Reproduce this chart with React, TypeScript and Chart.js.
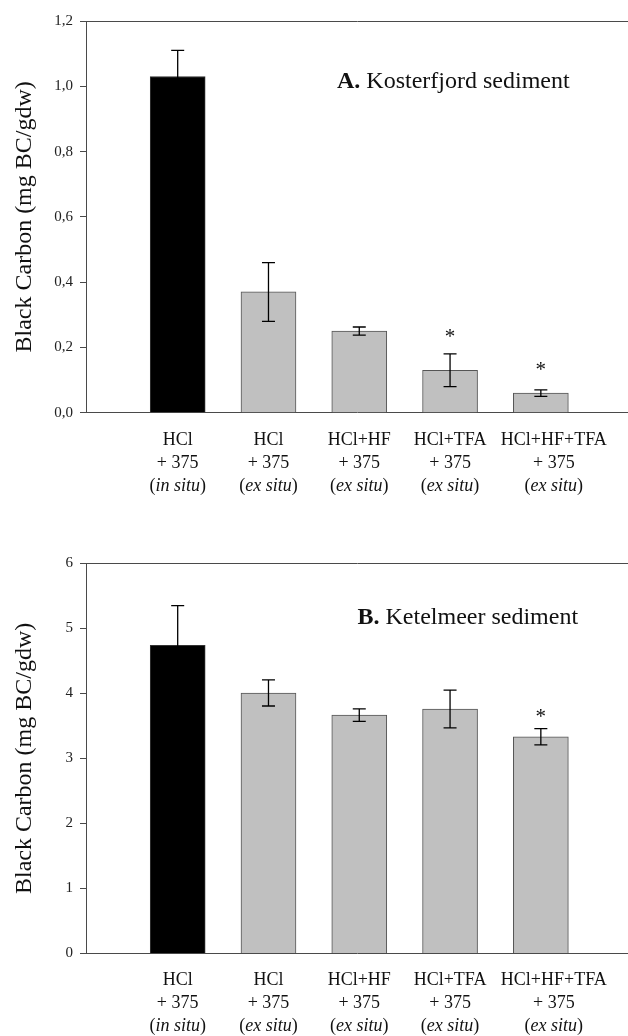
import React, { useEffect, useRef } from 'react';
import { Chart, registerables } from 'chart.js';

Chart.register(...registerables);

// ---------- data ----------
const treatmentLine1 = ['HCl', 'HCl', 'HCl+HF', 'HCl+TFA', 'HCl+HF+TFA'];
const treatmentLine2 = ['+ 375', '+ 375', '+ 375', '+ 375', '+ 375'];
const treatmentLine3 = ['in situ', 'ex situ', 'ex situ', 'ex situ', 'ex situ'];
const barColors = ['#000000', '#c0c0c0', '#c0c0c0', '#c0c0c0', '#c0c0c0'];

const kosterValues = [1.03, 0.37, 0.25, 0.13, 0.06];
const kosterErrors = [0.08, 0.09, 0.0125, 0.05, 0.01];
const kosterStars = [null, null, null, 0.246, 0.145];
const kosterTicks = [0, 0.2, 0.4, 0.6, 0.8, 1.0, 1.2];

const ketelValues = [4.74, 4.006, 3.665, 3.76, 3.333];
const ketelErrors = [0.61, 0.2, 0.095, 0.29, 0.124];
const ketelStars = [null, null, null, null, 3.7];
const ketelTicks = [0, 1, 2, 3, 4, 5, 6];

const yTitle = 'Black Carbon (mg BC/gdw)';

const FONT = '"Liberation Serif", "Times New Roman", Times, serif';
const AXIS = '#4a4a4a';

type PanelCfg = {
  values: number[];
  errors: number[];
  stars: (number | null)[];
  ticks: number[];
  tickFmt: (v: number) => string;
  titleBold: string;
  titleRest: string;
  titleDx: number;
  titleDy: number;
  padTop: number;
  padBottom: number;
  labelDy: number[];
  labelShift: number[];
};

function makeDecor(cfg: PanelCfg) {
  return {
    id: 'decor',
    afterDatasetsDraw(chart: any) {
      const { ctx, chartArea, scales } = chart;
      const xs = scales.x;
      const ys = scales.y;
      ctx.save();
      // error bars
      ctx.strokeStyle = '#000';
      ctx.lineWidth = 1.3;
      cfg.values.forEach((v, i) => {
        const e = cfg.errors[i];
        const x = xs.getPixelForValue(i);
        const yt = ys.getPixelForValue(v + e);
        const yb = ys.getPixelForValue(v - e);
        ctx.beginPath();
        ctx.moveTo(x, yt);
        ctx.lineTo(x, yb);
        ctx.moveTo(x - 6.5, yt);
        ctx.lineTo(x + 6.5, yt);
        ctx.moveTo(x - 6.5, yb);
        ctx.lineTo(x + 6.5, yb);
        ctx.stroke();
      });
      // significance stars
      ctx.fillStyle = '#111';
      ctx.font = `21px ${FONT}`;
      ctx.textAlign = 'center';
      ctx.textBaseline = 'alphabetic';
      cfg.stars.forEach((s, i) => {
        if (s == null) return;
        ctx.fillText('*', xs.getPixelForValue(i), ys.getPixelForValue(s) + 10.5);
      });
      // panel title
      ctx.textAlign = 'left';
      ctx.fillStyle = '#111';
      const tx = chartArea.left + cfg.titleDx;
      const ty = chartArea.top + cfg.titleDy;
      ctx.font = `bold 24px ${FONT}`;
      ctx.fillText(cfg.titleBold, tx, ty);
      const bw = ctx.measureText(cfg.titleBold).width;
      ctx.font = `24px ${FONT}`;
      ctx.fillText(' ' + cfg.titleRest, tx + bw, ty);
      // category labels
      ctx.textBaseline = 'middle';
      ctx.textAlign = 'left';
      treatmentLine1.forEach((l1, i) => {
        const cx = xs.getPixelForValue(i) + cfg.labelShift[i];
        const base = chartArea.bottom;
        ctx.font = `18px ${FONT}`;
        let w = ctx.measureText(l1).width;
        ctx.fillText(l1, cx - w / 2, base + cfg.labelDy[0]);
        const l2 = treatmentLine2[i];
        w = ctx.measureText(l2).width;
        ctx.fillText(l2, cx - w / 2, base + cfg.labelDy[1]);
        const l3 = treatmentLine3[i];
        const wp = ctx.measureText('(').width;
        const wq = ctx.measureText(')').width;
        ctx.font = `italic 18px ${FONT}`;
        const wi = ctx.measureText(l3).width;
        const total = wp + wi + wq;
        const x0 = cx - total / 2;
        const y3 = base + cfg.labelDy[2];
        ctx.font = `18px ${FONT}`;
        ctx.fillText('(', x0, y3);
        ctx.font = `italic 18px ${FONT}`;
        ctx.fillText(l3, x0 + wp, y3);
        ctx.font = `18px ${FONT}`;
        ctx.fillText(')', x0 + wp + wi, y3);
      });
      ctx.restore();
    },
  };
}

function Panel({ cfg, top }: { cfg: PanelCfg; top: number }) {
  const ref = useRef<HTMLCanvasElement>(null);
  useEffect(() => {
    const canvas = ref.current!;
    const chart = new Chart(canvas, {
      type: 'bar',
      data: {
        datasets: [
          {
            data: cfg.values.map((v, i) => ({ x: i, y: v })),
            backgroundColor: barColors,
            borderColor: ['#333333', '#555555', '#555555', '#555555', '#555555'],
            borderWidth: 1,
            barThickness: 55,
          },
        ],
      },
      options: {
        animation: false,
        responsive: false,
        devicePixelRatio: 1,
        layout: { padding: { top: cfg.padTop, bottom: cfg.padBottom, left: 0, right: 0 } },
        plugins: { legend: { display: false }, tooltip: { enabled: false } },
        scales: {
          x: {
            type: 'linear',
            position: 'bottom',
            offset: false,
            min: -1.01,
            max: 4.96,
            ticks: { display: false },
            grid: { display: false, drawTicks: false },
            border: { display: true, color: AXIS, width: 1 },
          },
          xTop: {
            type: 'linear',
            position: 'top',
            offset: false,
            min: -1.01,
            max: 4.96,
            ticks: { display: false },
            grid: { display: false, drawTicks: false },
            border: { display: true, color: AXIS, width: 1 },
          },
          y: {
            type: 'linear',
            position: 'left',
            min: cfg.ticks[0],
            max: cfg.ticks[cfg.ticks.length - 1],
            afterBuildTicks: (axis: any) => {
              axis.ticks = cfg.ticks.map((v) => ({ value: v }));
            },
            afterFit: (axis: any) => {
              axis.width = 86;
            },
            ticks: {
              callback: (v: any) => cfg.tickFmt(Number(v)),
              font: { family: FONT, size: 15 },
              color: '#222',
              padding: 7,
            },
            grid: {
              display: true,
              drawOnChartArea: false,
              drawTicks: true,
              tickLength: 6,
              color: AXIS,
              lineWidth: 1,
            },
            border: { display: true, color: AXIS, width: 1 },
            title: {
              display: true,
              text: yTitle,
              font: { family: FONT, size: 24 },
              color: '#111',
              padding: { top: 10, bottom: 0 },
            },
          },
        },
      },
      plugins: [makeDecor(cfg)],
    } as any);
    return () => chart.destroy();
  }, [cfg]);
  return (
    <canvas
      ref={ref}
      width={628}
      height={518}
      style={{ position: 'absolute', left: 0, top, width: 628, height: 518 }}
    />
  );
}

const cfgA: PanelCfg = {
  values: kosterValues,
  errors: kosterErrors,
  stars: kosterStars,
  ticks: kosterTicks,
  tickFmt: (v) => v.toFixed(1).replace('.', ','),
  titleBold: 'A.',
  titleRest: 'Kosterfjord sediment',
  titleDx: 251,
  titleDy: 67,
  padTop: 21,
  padBottom: 105.3,
  labelDy: [27.5, 50.5, 73.5],
  labelShift: [0, 0, 0, 0, 13],
};

const cfgB: PanelCfg = {
  values: ketelValues,
  errors: ketelErrors,
  stars: ketelStars,
  ticks: ketelTicks,
  tickFmt: (v) => String(Math.round(v)),
  titleBold: 'B.',
  titleRest: 'Ketelmeer sediment',
  titleDx: 271.5,
  titleDy: 61,
  padTop: 45.3,
  padBottom: 82.5,
  labelDy: [27, 50, 72.5],
  labelShift: [0, 0, 0, 0, 13],
};

export default function App() {
  return (
    <div
      style={{
        position: 'absolute',
        left: 0,
        top: 0,
        width: 628,
        height: 1036,
        background: '#ffffff',
        overflow: 'hidden',
      }}
    >
      <Panel cfg={cfgA} top={0} />
      <Panel cfg={cfgB} top={518} />
    </div>
  );
}
